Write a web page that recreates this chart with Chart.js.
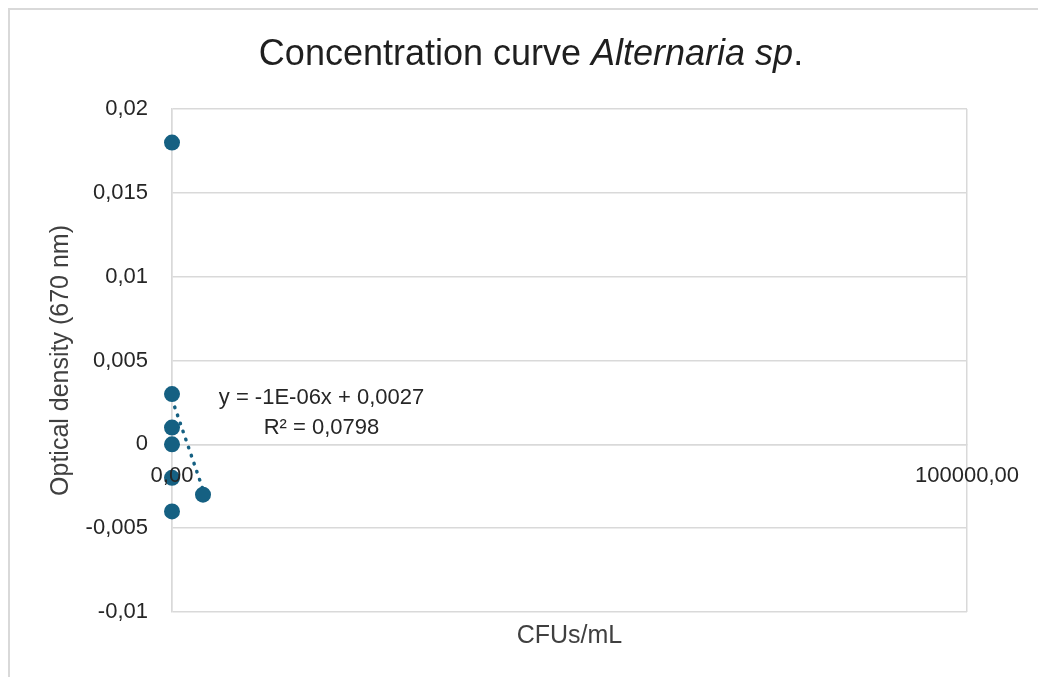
<!DOCTYPE html>
<html>
<head>
<meta charset="utf-8">
<script src="https://cdn.jsdelivr.net/npm/chart.js@4.4.1/dist/chart.umd.min.js"></script>
<style>
  html, body { margin: 0; padding: 0; background: #ffffff; }
  #wrap { position: relative; width: 1038px; height: 677px; }
  canvas { display: block; }
</style>
</head>
<body>
<div id="wrap"><canvas id="c" width="1038" height="677"></canvas></div>
<script>
// ---- data ----
const xValues = [0, 0, 0, 0, 0, 0, 3900];            // CFUs/mL
const yValues = [0.018, 0.003, 0.001, 0, -0.002, -0.004, -0.003]; // OD 670 nm
const trendX = [0, 3900];
const trendY = [0.0027, -0.0027];
const yTickLabels = ['-0,01', '-0,005', '0', '0,005', '0,01', '0,015', '0,02'];
const xTickValues = [0, 100000];
const xTickLabels = ['0,00', '100000,00'];
const titleParts = [['Concentration curve ', false], ['Alternaria sp', true], ['.', false]];
const xTitle = 'CFUs/mL';
const yTitle = 'Optical density (670 nm)';
const equationLines = ['y = -1E-06x + 0,0027', 'R\u00B2 = 0,0798'];

const FONT = '"Liberation Sans", Arial, sans-serif';
const GRID = '#d9d9d9';
const MARK = '#156082';

const points = xValues.map((x, i) => ({ x: x, y: yValues[i] }));
const trend = trendX.map((x, i) => ({ x: x, y: trendY[i] }));

const decor = {
  id: 'decor',
  beforeDraw(chart) {
    const ctx = chart.ctx;
    ctx.save();
    ctx.fillStyle = '#ffffff';
    ctx.fillRect(0, 0, chart.width, chart.height);
    ctx.strokeStyle = GRID;
    ctx.lineWidth = 2;
    ctx.strokeRect(9, 9, 1200, 1000);
    ctx.restore();
  },
  afterDatasetsDraw(chart) {
    // x tick labels drawn over the markers, as in the reference
    const ctx = chart.ctx;
    const xs = chart.scales.x, ys = chart.scales.y;
    ctx.save();
    ctx.font = '22px ' + FONT;
    ctx.fillStyle = '#262626';
    ctx.textAlign = 'center';
    ctx.textBaseline = 'middle';
    const y0 = ys.getPixelForValue(0);
    xTickValues.forEach((v, i) => {
      ctx.fillText(xTickLabels[i], xs.getPixelForValue(v), y0 + 32);
    });
    ctx.restore();
  },
  afterDraw(chart) {
    const ctx = chart.ctx;
    ctx.save();
    // main title with italic species name
    ctx.fillStyle = '#1f1f1f';
    ctx.textBaseline = 'alphabetic';
    let total = 0;
    const widths = titleParts.map(([t, it]) => {
      ctx.font = (it ? 'italic ' : '') + '36px ' + FONT;
      const w = ctx.measureText(t).width;
      total += w;
      return w;
    });
    let x = 531 - total / 2;
    titleParts.forEach(([t, it], i) => {
      ctx.font = (it ? 'italic ' : '') + '36px ' + FONT;
      ctx.textAlign = 'left';
      ctx.fillText(t, x, 65);
      x += widths[i];
    });
    // x axis title
    const area = chart.chartArea;
    ctx.font = '25px ' + FONT;
    ctx.fillStyle = '#404040';
    ctx.textAlign = 'center';
    ctx.fillText(xTitle, (area.left + area.right) / 2, 643);
    // trendline equation
    ctx.font = '22px ' + FONT;
    ctx.fillStyle = '#262626';
    ctx.fillText(equationLines[0], 321.5, 404);
    ctx.fillText(equationLines[1], 321.5, 434);
    ctx.restore();
  }
};

new Chart(document.getElementById('c'), {
  type: 'scatter',
  data: {
    datasets: [
      {
        label: 'data',
        data: points,
        backgroundColor: MARK,
        borderColor: MARK,
        borderWidth: 0,
        pointRadius: 8,
        pointHoverRadius: 8,
        clip: false,
        order: 2
      },
      {
        label: 'trend',
        type: 'line',
        data: trend,
        showLine: true,
        borderColor: MARK,
        borderWidth: 3.5,
        borderDash: [0.5, 8],
        borderCapStyle: 'round',
        pointRadius: 0,
        fill: false,
        clip: false,
        order: 1
      }
    ]
  },
  options: {
    responsive: false,
    animation: false,
    events: [],
    layout: { padding: { left: 0, top: 109, right: 71, bottom: 65 } },
    plugins: {
      legend: { display: false },
      tooltip: { enabled: false },
      title: { display: false }
    },
    scales: {
      x: {
        type: 'linear',
        position: { y: 0 },
        min: 0,
        max: 100000,
        afterBuildTicks(scale) {
          scale.ticks = xTickValues.map(v => ({ value: v }));
        },
        ticks: {
          display: false
        },
        grid: { color: GRID, lineWidth: 1.5, drawTicks: false },
        border: { display: true, color: GRID, width: 1.5 }
      },
      y: {
        type: 'linear',
        position: 'left',
        min: -0.01,
        max: 0.02,
        afterFit(scale) { scale.width = 172; },
        afterBuildTicks(scale) {
          scale.ticks = yTickLabels.map((_, i) => ({ value: -0.01 + i * 0.005 }));
        },
        ticks: {
          autoSkip: false,
          padding: 24,
          color: '#262626',
          font: { family: FONT, size: 22 },
          callback: (v, i) => yTickLabels[i]
        },
        grid: { color: GRID, lineWidth: 1.5, drawTicks: false },
        border: { display: true, color: GRID, width: 1.5 },
        title: {
          display: true,
          text: yTitle,
          color: '#404040',
          font: { family: FONT, size: 25 },
          padding: { top: 46, bottom: 0 }
        }
      }
    }
  },
  plugins: [decor]
});
</script>
</body>
</html>
